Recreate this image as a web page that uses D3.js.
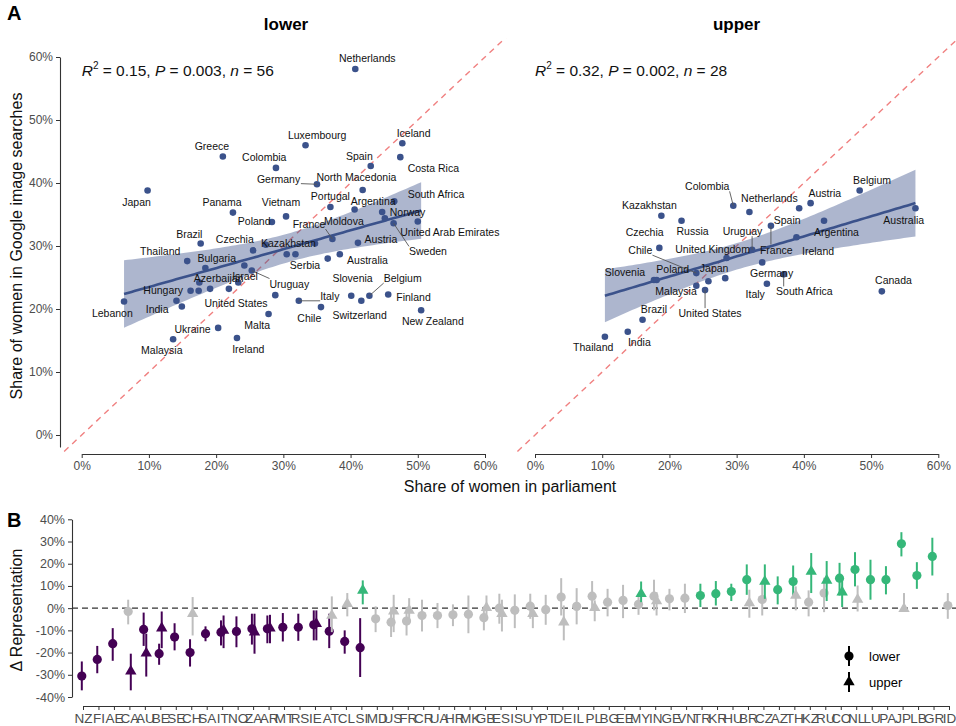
<!DOCTYPE html>
<html>
<head>
<meta charset="utf-8">
<script src="https://cdn.jsdelivr.net/npm/d3@7"></script>
<style>
  body { margin: 0; background: #fff; }
  svg { font-family: "Liberation Sans", Arial, sans-serif; }
</style>
</head>
<body>
<svg width="956" height="726"></svg>
<script>
// ---- panel A data: share of women (%) in parliament vs. in image searches ----
const lowerCountries = ["Netherlands", "Luxembourg", "Iceland", "Greece", "Colombia", "Spain", "Costa Rica",
    "Germany", "North Macedonia", "Japan", "Portugal", "Argentina", "Moldova", "South Africa", "Norway",
    "Sweden", "United Arab Emirates", "Panama", "Vietnam", "Poland", "France", "Brazil", "Czechia",
    "Kazakhstan", "Austria", "Thailand", "Bulgaria", "Azerbaijan", "Serbia", "Australia", "Israel",
    "Uruguay", "Hungary", "United States", "Lebanon", "India", "Italy", "Slovenia", "Belgium", "Finland",
    "Chile", "Switzerland", "New Zealand", "Ukraine", "Malta", "Malaysia", "Ireland", "Canada", "Croatia",
    "United Kingdom", "South Korea", "Russia", "Turkey", "Georgia", "Indonesia"];
const lowerParliament = [40.7, 33.3, 47.7, 21.0, 28.9, 43.0, 47.4, 35.0, 41.8, 9.8, 37.0, 44.7, 40.6, 46.5, 45.1,
    46.4, 50.0, 22.5, 30.4, 28.3, 37.3, 17.7, 25.5, 27.4, 41.1, 15.7, 24.2, 18.4, 36.6, 38.4, 23.3,
    25.3, 16.2, 28.8, 6.3, 14.9, 32.3, 40.1, 42.8, 45.6, 35.6, 41.6, 50.5, 20.3, 27.8, 13.6, 23.1, 30.5, 31.8,
    34.7, 17.5, 14.1, 17.4, 19.1, 21.9];
const lowerSearch = [58.1, 46.0, 46.3, 44.2, 42.4, 42.7, 44.1, 39.8, 38.9, 38.8, 36.2, 35.4, 35.8, 37.1, 34.4,
    33.6, 33.9, 35.3, 34.7, 33.8, 31.1, 30.4, 29.3, 30.2, 30.5, 27.6, 26.9, 26.5, 28.0, 28.7, 24.2,
    26.1, 22.9, 22.2, 21.2, 20.4, 21.3, 22.1, 22.1, 22.3, 20.3, 21.3, 19.8, 17.0, 19.2, 15.2, 15.4, 28.7, 28.7,
    30.4, 24.2, 21.3, 22.9, 23.2, 23.2];

const upperCountries = ["Colombia", "Netherlands", "Spain", "Austria", "Belgium", "Australia", "Kazakhstan",
    "Russia", "France", "Argentina", "Czechia", "Ireland", "United Kingdom", "Uruguay", "Germany", "Slovenia",
    "Poland", "Chile", "Malaysia", "Japan", "Switzerland", "United States", "Italy", "South Africa", "Canada",
    "Brazil", "India", "Thailand"];
const upperParliament = [29.5, 31.9, 39.3, 41.0, 48.3, 56.6, 18.8, 21.8, 35.1, 43.0, 18.5, 38.9, 28.5, 32.3, 33.8,
    17.7, 18.1, 24.0, 24.0, 25.8, 28.3, 25.3, 34.5, 37.0, 51.6, 16.0, 13.8, 10.4];
const upperSearch = [36.4, 35.4, 36.0, 36.8, 38.8, 36.0, 34.8, 34.0, 33.2, 34.0, 29.7, 31.4, 28.1, 29.4, 27.4,
    24.6, 24.6, 25.7, 23.7, 24.4, 24.9, 23.0, 24.0, 25.5, 22.8, 18.3, 16.4, 15.6];

const statsText = {
    lower: ["0.15", "0.003", "56"],
    upper: ["0.32", "0.002", "28"]
};
const pctTicksA = [0, 10, 20, 30, 40, 50, 60];

// ---- panel B data: search share minus parliament share (%), with 95% interval ----
const codes = ["NZ", "FI", "AE", "CA", "AU", "BE", "SE", "CH", "SA", "IT", "NO", "ZA", "AR", "MT", "RS", "IE",
    "AT", "CL", "SI", "MD", "US", "FR", "CR", "UA", "HR", "MK", "GB", "ES", "IS", "UY", "PT", "DE", "IL", "PL",
    "BG", "EE", "MY", "IN", "GE", "VN", "TR", "KR", "HU", "BR", "CZ", "AZ", "TH", "KZ", "RU", "CO", "NL", "LU",
    "PA", "JP", "LB", "GR", "ID"];
const lowerDelta = [-30.6, -23.1, -16, -1.5, -9.6, -20.5, -13, -20, -11.5, -10.8, -10.5, -9.3, -9.3, -8.6, -8.6, -7.5,
    -10.4, -15, -17.8, -4.8, -6.3, -5.8, -3.3, -3.3, -3, -2.8, -4.3, 0, -1, 0.9, -0.7, 5, 0.8, 5.4,
    2.7, 3.5, 1.7, 5.4, 4.2, 4.5, 5.7, 6.5, 7.5, 12.8, 3.9, 8.3, 12, 2.7, 6.8, 13.5, 17.4, 12.8,
    12.8, 29, 14.7, 23.3, 1.2];
const lowerLow = [-37, -29.3, -23.7, -7.3, -17, -25.5, -19, -26.3, -14.9, -16.8, -17.6, -16.4, -15.8, -15, -14.7, -14.5,
    -18, -20.5, -31, -10.8, -13, -12.3, -10.5, -9, -8.1, -11.3, -10, -7, -9, -4.8, -7.5, -3.3, -7.3, -1,
    -3.7, -4.5, -3, -1, -1, -2.2, 0.5, 1.2, 3.2, 6, -3.3, 1.7, 5, -3.7, -1.8, 5.7, 9.8, 3.8,
    6.2, 23.3, 8.7, 14.7, -4.8];
const lowerHigh = [-24, -17, -9, 3.8, -2, -16, -6.8, -14, -8.2, -5.5, -3.7, -2.5, -3.3, -2.2, -2.5, -1,
    -2.5, -10, -4.5, 0.8, 0.4, 0.4, 3.8, 2.3, 1.7, 5.7, 0.8, 6.5, 6.2, 6.5, 6, 13.5, 9, 12.2,
    8.7, 10.5, 5, 12.8, 8.7, 11, 11, 12.2, 11, 19.7, 11, 14.3, 19.2, 8, 13.7, 20.4, 25.2, 21.8,
    18.9, 34.2, 20.7, 31.7, 6.8];
const upperDelta = [null, null, null, -28.4, -20.3, -9, null, -2.5, null, -10, null, -10.8, -9, null, null, -7,
    -3.3, 2, 8, null, -1.4, -1, null, null, null, null, 0.2, -2.5, null, -2.5, null, -6.3, null, 0.2,
    null, null, 6.5, 3.2, null, null, null, null, null, 2.3, 12, null, 5.7, 16.5, 12.5, 7.2, 3.9, null,
    null, -0.3, null, null, null];
const upperLow = [null, null, null, -37, -30.8, -18, null, -12.3, null, -18, null, -20.5, -15.8, null, null, -14.5,
    -10.8, -3.7, 1.7, null, -10.8, -7, null, null, null, null, -5.2, -10.5, null, -9, null, -14.5, null, -5.9,
    null, null, 2.7, -3.3, null, null, null, null, null, -4.3, 4.2, null, -1, 6.8, 3.2, 0.5, -1.5, null,
    null, -1.5, null, null, null];
const upperHigh = [null, null, null, -20.5, -11.5, -1.5, null, 5, null, -3.3, null, -2.5, -3, null, null, -1,
    5.3, 6.8, 12.5, null, 6, 4.5, null, null, null, null, 5.7, 3.8, null, 2, null, 1.2, null, 3.5,
    null, null, 12, 7.2, null, null, null, null, null, 8.3, 19.7, null, 9.8, 24.8, 21.2, 13.2, 10.2, null,
    null, 6.8, null, null, null];
const pctTicksB = [-40, -30, -20, -10, 0, 10, 20, 30, 40];

// ---- label placement (pixel offsets from the point, as ggrepel left them) ----
const lowerNudge = {
    "Netherlands": [12, -10.7], "Luxembourg": [11.6, -10.3], "Iceland": [11.3, -10], "Greece": [-11, -10.3],
    "Colombia": [-11.7, -10.4], "Spain": [-11.4, -10], "Costa Rica": [33, 10.7], "Germany": [-38.4, -5.3],
    "North Macedonia": [-6.3, -12.7], "Japan": [-11, 11.6], "Portugal": [0, -10.7], "Argentina": [-9, -10.6],
    "Moldova": [-10.7, 12], "South Africa": [41.7, -7.3], "Norway": [22.7, -5.6], "Sweden": [34.4, 28.4],
    "United Arab Emirates": [32, 11], "Panama": [-11, -10], "Vietnam": [-5, -14], "Poland": [-17.7, -0.3],
    "France": [-23.4, -14.7], "Brazil": [-11.4, -9.3], "Czechia": [-18.3, -10.7], "Kazakhstan": [22.6, -1.7],
    "Austria": [23, -3.4], "Thailand": [-27, -9.3], "Bulgaria": [-27.6, -7.4], "Azerbaijan": [13.3, 10],
    "Serbia": [-22.7, 6.7], "Australia": [27.7, 6], "Israel": [6.7, -6], "Uruguay": [37.6, 13.3],
    "Hungary": [-27.4, 0], "United States": [-39.3, 8.3], "Lebanon": [-11.7, 11.6], "India": [-24.7, 3.3],
    "Italy": [31, -4], "Slovenia": [1.3, -17.4], "Belgium": [33.3, -17.4], "Finland": [25.3, 2.4],
    "Chile": [-11.7, 11], "Switzerland": [-1.7, 14.3], "New Zealand": [11.7, 11.4], "Ukraine": [-25.6, 1.3],
    "Malta": [-11.4, 11], "Malaysia": [-11.3, 11], "Ireland": [11.3, 11.3]
};
const upperNudge = {
    "Colombia": [-26, -19], "Netherlands": [20, -14], "Spain": [-12, 11.7], "Austria": [14.3, -10],
    "Belgium": [12.4, -10.7], "Australia": [-11.7, 11.7], "Kazakhstan": [-12, -10.7], "Russia": [11, 11],
    "France": [5.3, 24], "Argentina": [12.4, 11.7], "Czechia": [-14.7, -15.4], "Ireland": [21.6, 13.7],
    "United Kingdom": [-14, -9], "Uruguay": [-9.6, -18.3], "Germany": [9.4, 11], "Slovenia": [-29, -7.3],
    "Poland": [16, -11], "Chile": [-56, -22.6], "Malaysia": [-20.3, 5.7], "Japan": [5.7, -12.7],
    "United States": [5, 23.3], "Italy": [-11.7, 11], "South Africa": [20.7, 17.4], "Canada": [11.6, -11],
    "Brazil": [11.3, -10.7], "India": [11.6, 10.6], "Thailand": [-11.7, 10.6]
};
const lowerSegments = ["Germany", "Sweden", "Uruguay", "Italy", "Belgium", "France"];
const upperSegments = ["Colombia", "France", "Uruguay", "Chile", "United States", "South Africa"];

const blue = "#3B528B";
const tickGrey = "#4d4d4d";
const svg = d3.select("svg");
const defs = svg.append("defs");

// linear fit with a 95% confidence band, like geom_smooth(method = "lm")
function fitLine(xs, ys) {
    const n = xs.length, mx = d3.mean(xs), my = d3.mean(ys);
    const sxx = d3.sum(xs, (v) => (v - mx) ** 2);
    const b = d3.sum(xs.map((v, i) => (v - mx) * (ys[i] - my))) / sxx;
    const a = my - b * mx;
    const s = Math.sqrt(d3.sum(xs.map((v, i) => (ys[i] - a - b * v) ** 2)) / (n - 2));
    const df = n - 2, z = 1.959964;
    const t = z + (z ** 3 + z) / (4 * df) + (5 * z ** 5 + 16 * z ** 3 + 3 * z) / (96 * df * df);
    const lo = d3.min(xs), hi = d3.max(xs);
    return d3.range(81).map((i) => {
        const v = lo + (hi - lo) * i / 80;
        const se = s * Math.sqrt(1 / n + (v - mx) ** 2 / sxx);
        return { x: v, fit: a + b * v, lo: a + b * v - t * se, hi: a + b * v + t * se };
    });
}

function styleAxis(g, size) {
    g.select(".domain").attr("stroke", "#333").attr("stroke-width", 1.1);
    g.selectAll(".tick line").attr("stroke", "#333");
    g.selectAll(".tick text").attr("fill", tickGrey).attr("font-size", size || 12)
        .attr("font-family", "Liberation Sans, Arial, sans-serif");
}

// ---- panel A ----
const yA = d3.scaleLinear().domain([0, 60]).range([435, 57]);
const panels = [
    { key: "lower", xr: [81.7, 485], clip: [62, 510], countries: lowerCountries, px: lowerParliament,
      py: lowerSearch, nudge: lowerNudge, segs: lowerSegments },
    { key: "upper", xr: [535, 938.3], clip: [515, 958], countries: upperCountries, px: upperParliament,
      py: upperSearch, nudge: upperNudge, segs: upperSegments }
];

panels.forEach((p) => {
    const x = d3.scaleLinear().domain([0, 60]).range(p.xr);
    defs.append("clipPath").attr("id", "clip-" + p.key)
        .append("rect").attr("x", p.clip[0]).attr("y", 38)
        .attr("width", p.clip[1] - p.clip[0]).attr("height", 414);

    const g = svg.append("g");
    const inner = g.append("g").attr("clip-path", `url(#clip-${p.key})`);

    // identity line
    inner.append("line")
        .attr("x1", x(-5)).attr("y1", yA(-5))
        .attr("x2", x(70)).attr("y2", yA(70))
        .attr("stroke", "#F08080").attr("stroke-width", 1.4)
        .attr("stroke-dasharray", "6,5");

    const fit = fitLine(p.px, p.py);
    inner.append("path")
        .datum(fit)
        .attr("fill", blue).attr("fill-opacity", 0.42)
        .attr("d", d3.area().x((d) => x(d.x)).y0((d) => yA(d.lo)).y1((d) => yA(d.hi)));
    inner.append("path")
        .datum(fit)
        .attr("fill", "none").attr("stroke", blue).attr("stroke-width", 2.6)
        .attr("d", d3.line().x((d) => x(d.x)).y((d) => yA(d.fit)));

    const pts = p.countries.map((c, i) => ({ name: c, cx: x(p.px[i]), cy: yA(p.py[i]) }));

    // labels + connectors
    const segLayer = g.append("g");
    const labLayer = g.append("g");
    inner.append("g").selectAll("circle")
        .data(pts)
        .enter()
        .append("circle")
        .attr("cx", (d) => d.cx).attr("cy", (d) => d.cy)
        .attr("r", 3.3).attr("fill", blue);

    pts.filter((d) => p.nudge[d.name]).forEach((d) => {
        const [dx, dy] = p.nudge[d.name];
        const t = labLayer.append("text")
            .attr("x", d.cx + dx).attr("y", d.cy + dy)
            .attr("dy", "0.35em")
            .attr("text-anchor", "middle")
            .attr("font-size", 10.5).attr("fill", "#111")
            .text(d.name);
        if (p.segs.includes(d.name)) {
            const bb = t.node().getBBox();
            const tx = Math.max(bb.x, Math.min(d.cx, bb.x + bb.width));
            const ty = Math.max(bb.y + 1, Math.min(d.cy, bb.y + bb.height - 1));
            segLayer.append("line")
                .attr("x1", d.cx).attr("y1", d.cy)
                .attr("x2", tx).attr("y2", ty)
                .attr("stroke", "#555").attr("stroke-width", 0.9);
        }
    });

    // facet strip title
    g.append("text")
        .attr("x", (p.clip[0] + p.clip[1]) / 2).attr("y", 30)
        .attr("text-anchor", "middle").attr("font-size", 17).attr("font-weight", "bold")
        .text(p.key);

    // statistics
    const s = statsText[p.key];
    const st = g.append("text").attr("x", x(0)).attr("y", yA(57)).attr("font-size", 15.5).attr("fill", "#111");
    st.append("tspan").attr("font-style", "italic").text("R");
    st.append("tspan").attr("font-size", 10).attr("dy", -7).text("2");
    st.append("tspan").attr("dy", 7).text(` = ${s[0]}, `);
    st.append("tspan").attr("font-style", "italic").text("P");
    st.append("tspan").text(` = ${s[1]}, `);
    st.append("tspan").attr("font-style", "italic").text("n");
    st.append("tspan").text(` = ${s[2]}`);

    // x axis
    g.append("g")
        .attr("transform", "translate(0,454)")
        .call(d3.axisBottom(x).tickValues(pctTicksA).tickFormat((d) => d + "%").tickSize(4).tickSizeOuter(0))
        .call(styleAxis);
});

// shared y axis of panel A
const yAxisScale = d3.scaleLinear().domain([-1.9, 60]).range([yA(-1.9), yA(60)]);
svg.append("g")
    .attr("transform", "translate(60,0)")
    .call(d3.axisLeft(yAxisScale).tickValues(pctTicksA).tickFormat((d) => d + "%").tickSize(4).tickSizeOuter(0))
    .call(styleAxis);

svg.append("text")
    .attr("transform", "translate(22,246) rotate(-90)")
    .attr("text-anchor", "middle").attr("font-size", 16).attr("fill", "#111")
    .text("Share of women in Google image searches");
svg.append("text")
    .attr("x", 510).attr("y", 492)
    .attr("text-anchor", "middle").attr("font-size", 16).attr("fill", "#111")
    .text("Share of women in parliament");

// ---- panel B ----
const xB = d3.scalePoint().domain(codes).range([83, 949]);
const yB = d3.scaleLinear().domain([-40, 40]).range([697, 519.3]);
const purple = "#440154", green = "#35B779", grey = "#BEBEBE";
const sigColour = (lo, hi) => (hi < 0 ? purple : lo > 0 ? green : grey);

const gB = svg.append("g");
gB.append("line")
    .attr("x1", 72).attr("x2", 956)
    .attr("y1", yB(0)).attr("y2", yB(0))
    .attr("stroke", "#333").attr("stroke-width", 1.4).attr("stroke-dasharray", "6,4");

const lowerRows = codes.map((c, i) => ({ code: c, v: lowerDelta[i], lo: lowerLow[i], hi: lowerHigh[i] }))
    .filter((d) => d.v !== null);
const upperRows = codes.map((c, i) => ({ code: c, v: upperDelta[i], lo: upperLow[i], hi: upperHigh[i] }))
    .filter((d) => d.v !== null);

const lowerG = gB.append("g").selectAll("g")
    .data(lowerRows)
    .enter()
    .append("g")
    .attr("transform", (d) => `translate(${xB(d.code) - 1.2},0)`);
lowerG.append("line")
    .attr("y1", (d) => yB(d.lo)).attr("y2", (d) => yB(d.hi))
    .attr("stroke", (d) => sigColour(d.lo, d.hi)).attr("stroke-width", 2);
lowerG.append("circle")
    .attr("cy", (d) => yB(d.v)).attr("r", 4.6)
    .attr("fill", (d) => sigColour(d.lo, d.hi));

const tri = d3.symbol().type(d3.symbolTriangle).size(56);
const upperG = gB.append("g").selectAll("g")
    .data(upperRows)
    .enter()
    .append("g")
    .attr("transform", (d) => `translate(${xB(d.code) + 1.4},0)`);
upperG.append("line")
    .attr("y1", (d) => yB(d.lo)).attr("y2", (d) => yB(d.hi))
    .attr("stroke", (d) => sigColour(d.lo, d.hi)).attr("stroke-width", 2);
upperG.append("path")
    .attr("transform", (d) => `translate(0,${yB(d.v)})`)
    .attr("d", tri)
    .attr("fill", (d) => sigColour(d.lo, d.hi));

gB.append("g")
    .attr("transform", "translate(72,0)")
    .call(d3.axisLeft(yB).tickValues(pctTicksB).tickFormat((d) => d + "%").tickSize(4).tickSizeOuter(0))
    .call(styleAxis, 12.5);
gB.append("g")
    .attr("transform", "translate(0,706)")
    .call(d3.axisBottom(xB).tickSize(4).tickSizeOuter(0))
    .call(styleAxis, 13.5);

svg.append("text")
    .attr("transform", "translate(22,610) rotate(-90)")
    .attr("text-anchor", "middle").attr("font-size", 16).attr("fill", "#111")
    .text("\u0394 Representation");

// legend
const legend = gB.append("g").attr("transform", "translate(849,656)");
legend.append("line").attr("y1", -10).attr("y2", 10).attr("stroke", "#000").attr("stroke-width", 2);
legend.append("circle").attr("r", 4.6).attr("fill", "#000");
legend.append("text").attr("x", 20).attr("dy", "0.35em").attr("font-size", 13).text("lower");
const legend2 = gB.append("g").attr("transform", "translate(849,682)");
legend2.append("line").attr("y1", -10).attr("y2", 10).attr("stroke", "#000").attr("stroke-width", 2);
legend2.append("path").attr("d", tri).attr("fill", "#000");
legend2.append("text").attr("x", 20).attr("dy", "0.35em").attr("font-size", 13).text("upper");

// panel tags
svg.append("text").attr("x", 7).attr("y", 20).attr("font-size", 20).attr("font-weight", "bold").text("A");
svg.append("text").attr("x", 7).attr("y", 527).attr("font-size", 20).attr("font-weight", "bold").text("B");
</script>
</body>
</html>
